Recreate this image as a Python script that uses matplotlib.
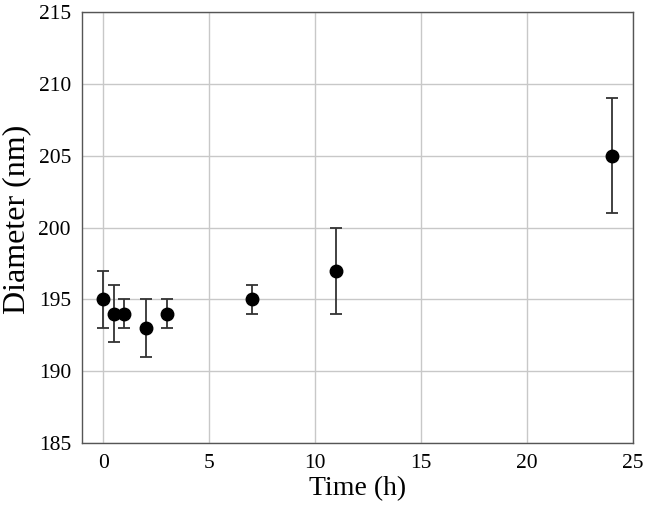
import matplotlib
matplotlib.use("Agg")
import matplotlib.pyplot as plt

time_h = [0, 0.5, 1, 2, 3, 7, 11, 24]
diameter = [195, 194, 194, 193, 194, 195, 197, 205]
err_low = [2, 2, 1, 2, 1, 1, 3, 4]
err_high = [2, 2, 1, 2, 1, 1, 3, 4]
x_ticks = [0, 5, 10, 15, 20, 25]
y_ticks = [185, 190, 195, 200, 205, 210, 215]

plt.rcParams['font.family'] = ['Liberation Serif', 'DejaVu Serif']

fig = plt.figure(figsize=(6.46, 5.09), dpi=100)
ax = fig.add_axes([0.127, 0.130, 0.853, 0.846])

ax.errorbar(time_h, diameter, yerr=[err_low, err_high], fmt='o', color='black',
            ecolor='#333333', elinewidth=1.3, capsize=4, capthick=1.3, markersize=9, zorder=3)

ax.set_xlim(-1, 25)
ax.set_ylim(185, 215)
ax.set_xticks(x_ticks)
ax.set_yticks(y_ticks)
ax.grid(True, color='#c8c8c8', linewidth=1.0)
ax.set_axisbelow(True)
ax.tick_params(length=0, labelsize=15.5, pad=8)
for s in ax.spines.values():
    s.set_color('#555555')
    s.set_linewidth(1.0)

ax.set_xlabel('Time (h)', fontsize=20, labelpad=2)
ax.set_ylabel('Diameter (nm)', fontsize=23)
ax.yaxis.set_label_coords(-0.092, 0.52)

fig.savefig('out.png', dpi=100)
